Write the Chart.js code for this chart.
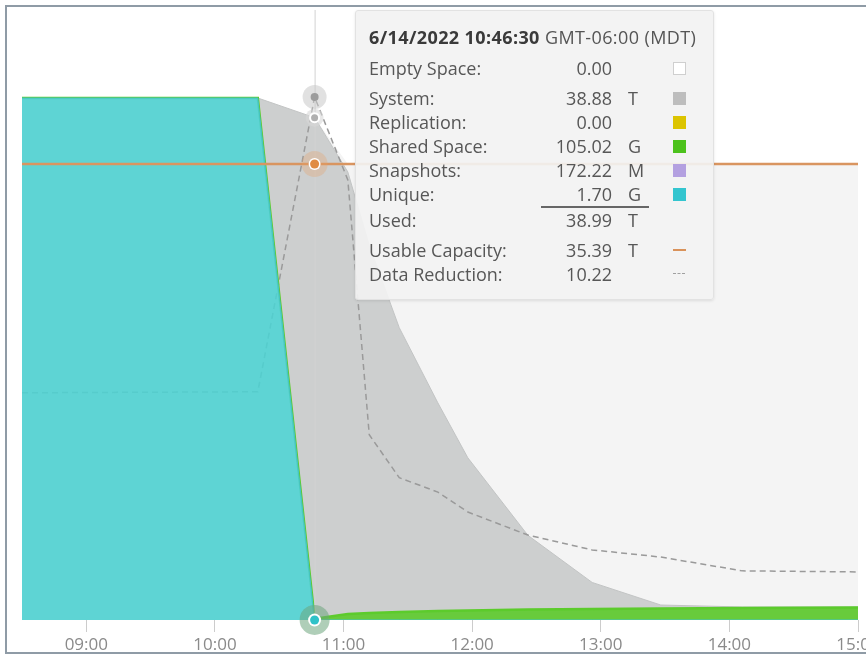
<!DOCTYPE html>
<html>
<head>
<meta charset="utf-8">
<script src="https://cdn.jsdelivr.net/npm/chart.js@4.4.0/dist/chart.umd.min.js"></script>
<style>
  html, body { margin: 0; padding: 0; background: #fff; width: 866px; height: 656px; overflow: hidden; }
  #wrap { position: relative; width: 866px; height: 656px; overflow: hidden; }
  #chart { position: absolute; left: 0; top: 0; }
  .frame { position: absolute; left: 5px; top: 5px; width: 920px; height: 645px; border: 2px solid #8f9ba6; pointer-events: none; }
  #tip {
    position: absolute; top: 10px; left: 355px; width: 359px; height: 290px; box-sizing: border-box;
    padding: 14px 0 0 13px; background: rgba(242, 242, 242, 0.92); border: 1px solid #e2e2e2;
    border-radius: 3px; box-shadow: 0 1px 3px rgba(0, 0, 0, 0.1);
    font-family: 'Open Sans', sans-serif; font-size: 18px; color: #575757;
  }
  #tip .title { height: 24px; line-height: 24px; color: #555; white-space: nowrap; margin-bottom: 7px; letter-spacing: 0.4px; }
  #tip .title b { color: #3a3a3a; }
  #tip .row { display: grid; grid-template-columns: 172px 71px 61px 14px; height: 24px; line-height: 24px; white-space: nowrap; }
  #tip .row.gap { margin-top: 6px; }
  #tip .val { text-align: right; }
  #tip .unit { padding-left: 16px; }
  #tip .sw { display: flex; align-items: center; }
  #tip .sw i { display: block; width: 13px; height: 13px; box-sizing: border-box; }
  #tip .sep { margin-left: 172px; width: 108px; height: 1.5px; background: #666; }
</style>
</head>
<body>
<div id="wrap">
  <canvas id="chart" width="900" height="656"></canvas>
  <div id="tip"></div>
  <div class="frame"></div>
</div>
<script>
// sample times (HH:MM[:SS]) on 6/14/2022
const times = ['08:30', '10:20', '10:46:30', '11:02', '11:12', '11:26', '11:44', '11:58', '12:26', '12:56', '13:28', '14:06', '15:00'];
const tickTimes = ['09:00', '10:00', '11:00', '12:00', '13:00', '14:00', '15:00'];

// capacity series, in T
const unique      = [40.51, 40.51, 0.0017, 0.002, 0.002, 0.002, 0.002, 0.002, 0.002, 0.002, 0.002, 0.002, 0.002];
const snapshots   = [0, 0, 0.00017222, 0.0002, 0.0002, 0.0002, 0.0002, 0.0002, 0.0002, 0.0002, 0.0002, 0.0002, 0.0002];
const shared      = [0, 0, 0.10502, 0.47, 0.54, 0.62, 0.70, 0.74, 0.81, 0.85, 0.89, 0.93, 0.97];
const replication = [0, 0, 0, 0, 0, 0, 0, 0, 0, 0, 0, 0, 0];
const system      = [0, 0, 38.88, 34.30, 28.51, 22.06, 16.15, 11.84, 5.76, 2.06, 0.27, 0.08, 0.04];
const emptySpace  = [0, 0, 0, 0.62, 6.34, 12.71, 18.54, 22.81, 28.82, 32.48, 34.23, 34.38, 34.38];
const capacity    = [35.39, 35.39, 35.39, 35.39, 35.39, 35.39, 35.39, 35.39, 35.39, 35.39, 35.39, 35.39, 35.39];
const dataReduction = [4.44, 4.46, 10.22, 8.60, 3.62, 2.78, 2.50, 2.11, 1.66, 1.37, 1.23, 0.96, 0.94];

const hoverIndex = 2;
const hoverDate = '6/14/2022';
const hoverZone = 'GMT-06:00 (MDT)';

function toMin(s) {
    const p = s.split(':').map(Number);
    return p[0] * 60 + p[1] + (p[2] || 0) / 60;
}

function fmtHM(v) {
    const h = Math.floor(v / 60), m = Math.round(v % 60);
    return String(h).padStart(2, '0') + ':' + String(m).padStart(2, '0');
}

function pts(arr) {
    return times.map((t, i) => ({ x: toMin(t), y: arr[i] }));
}

// value in T -> [number, unit]
function fmtSize(v) {
    if (v === 0) return ['0.00', ''];
    if (v >= 1) return [v.toFixed(2), 'T'];
    if (v >= 0.001) return [(v * 1000).toFixed(2), 'G'];
    return [(v * 1e6).toFixed(2), 'M'];
}

function area(label, arr, fill, line, order, fillMode, width) {
    return {
        label: label,
        data: pts(arr),
        backgroundColor: fill,
        borderColor: line,
        borderWidth: width,
        fill: fillMode,
        order: order,
        yAxisID: 'y',
    };
}

const datasets = [
    area('Unique', unique, 'rgba(80, 208, 208, 0.92)', '#45c4c4', 1, 'origin', 1),
    area('Snapshots', snapshots, '#b4a2e0', 'rgba(0,0,0,0)', 2, '-1', 0),
    area('Shared Space', shared, '#68cb3c', '#5ccb2c', 3, '-1', 2.5),
    area('Replication', replication, '#e0c400', 'rgba(0,0,0,0)', 4, '-1', 0),
    area('System', system, '#cdcfcf', '#c2c4c4', 6, '-1', 1),
    area('Empty Space', emptySpace, '#f4f4f4', 'rgba(0,0,0,0)', 7, '-1', 0),
    {
        label: 'Usable Capacity',
        data: pts(capacity),
        borderColor: '#d99560',
        borderWidth: 2.5,
        fill: false,
        order: 0,
        stack: 'capacity',
        yAxisID: 'y',
    },
    {
        label: 'Data Reduction',
        data: pts(dataReduction),
        borderColor: '#9a9a9a',
        borderWidth: 1.5,
        borderDash: [6, 4],
        fill: false,
        order: 5,
        yAxisID: 'y2',
    },
];

// hover markers: dataset index, halo, ring, dot
const hoverDots = [
    { ds: 7, halo: 12, haloColor: 'rgba(200, 200, 200, 0.55)', ring: 0, r: 4, color: '#9c9c9c' },
    { ds: 4, halo: 9, haloColor: 'rgba(215, 215, 215, 0.6)', ring: 5.5, r: 3.5, color: '#b0b0b0' },
    { ds: 6, halo: 13, haloColor: 'rgba(232, 160, 100, 0.3)', ring: 6, r: 4.5, color: '#e08c43' },
    { ds: 0, halo: 15, haloColor: 'rgba(110, 165, 125, 0.55)', ring: 6.5, r: 4.5, color: '#2fc2c8' },
];

const hoverPlugin = {
    id: 'hoverMarks',
    afterDatasetsDraw(chart) {
        const c = chart.ctx;
        const a = chart.chartArea;
        const x = chart.getDatasetMeta(0).data[hoverIndex].x;
        c.save();
        c.strokeStyle = '#d2d2d2';
        c.lineWidth = 1;
        c.beginPath();
        c.moveTo(x + 0.5, a.top);
        c.lineTo(x + 0.5, a.bottom);
        c.stroke();

        function dot(px, py, r, col) {
            if (!r) return;
            c.fillStyle = col;
            c.beginPath();
            c.arc(px, py, r, 0, Math.PI * 2);
            c.fill();
        }

        hoverDots.forEach(d => {
            const el = chart.getDatasetMeta(d.ds).data[hoverIndex];
            dot(el.x, el.y, d.halo, d.haloColor);
            dot(el.x, el.y, d.ring, '#ffffff');
            dot(el.x, el.y, d.r, d.color);
        });
        c.restore();
    }
};

const ctx = document.getElementById('chart').getContext('2d');
const chart = new Chart(ctx, {
    type: 'line',
    data: { datasets: datasets },
    options: {
        responsive: false,
        animation: false,
        events: [],
        layout: { padding: { left: 22, right: 42, top: 10, bottom: 0 } },
        elements: {
            point: { radius: 0, hoverRadius: 0 },
            line: { tension: 0 },
        },
        plugins: {
            legend: { display: false },
            tooltip: { enabled: false },
        },
        scales: {
            x: {
                type: 'linear',
                min: toMin(times[0]),
                max: toMin(times[times.length - 1]),
                afterBuildTicks: (scale) => {
                    scale.ticks = tickTimes.map(t => ({ value: toMin(t) }));
                },
                afterFit: (scale) => {
                    scale.height = 36;
                },
                ticks: {
                    callback: (v) => fmtHM(v),
                    color: '#8a8a8a',
                    font: { family: 'Open Sans', size: 17 },
                    padding: 3,
                    maxRotation: 0,
                    autoSkip: false,
                },
                grid: { drawOnChartArea: false, tickLength: 12, color: '#cccccc' },
                border: { display: false },
            },
            y: { display: false, stacked: true, min: 0, max: 47.34 },
            y2: { display: false, min: 0, max: 11.92 },
        },
    },
    plugins: [hoverPlugin],
});

// tooltip box
function buildTip() {
    const i = hoverIndex;
    const used = unique[i] + snapshots[i] + shared[i] + replication[i] + system[i];
    const rows = [
        { label: 'Empty Space:', v: fmtSize(emptySpace[i]), sw: 'background:#fff;border:1px solid #cfcfcf' },
        { label: 'System:', v: fmtSize(system[i]), sw: 'background:#bdbdbd', gap: true },
        { label: 'Replication:', v: fmtSize(replication[i]), sw: 'background:#dcc400' },
        { label: 'Shared Space:', v: fmtSize(shared[i]), sw: 'background:#4cc21c' },
        { label: 'Snapshots:', v: fmtSize(snapshots[i]), sw: 'background:#b3a0e0' },
        { label: 'Unique:', v: fmtSize(unique[i]), sw: 'background:#33c5cf' },
        { sep: true },
        { label: 'Used:', v: fmtSize(used), sw: '' },
        { label: 'Usable Capacity:', v: fmtSize(capacity[i]), sw: 'height:2px;background:#d9925a', gap: true },
        { label: 'Data Reduction:', v: [dataReduction[i].toFixed(2), ''], sw: 'height:0;border-top:1.5px dashed #a0a0a0;width:12px' },
    ];
    let html = `<div class="title"><b>${hoverDate} ${times[i]}</b> ${hoverZone}</div>`;
    rows.forEach(r => {
        if (r.sep) {
            html += '<div class="sep"></div>';
            return;
        }
        html += `<div class="row${r.gap ? ' gap' : ''}"><span>${r.label}</span><span class="val">${r.v[0]}</span>` +
            `<span class="unit">${r.v[1]}</span><span class="sw">${r.sw ? `<i style="${r.sw}"></i>` : ''}</span></div>`;
    });
    const tip = document.getElementById('tip');
    tip.innerHTML = html;
    const x = chart.getDatasetMeta(0).data[i].x;
    tip.style.left = Math.round(x + 40) + 'px';
}
buildTip();
</script>
</body>
</html>
